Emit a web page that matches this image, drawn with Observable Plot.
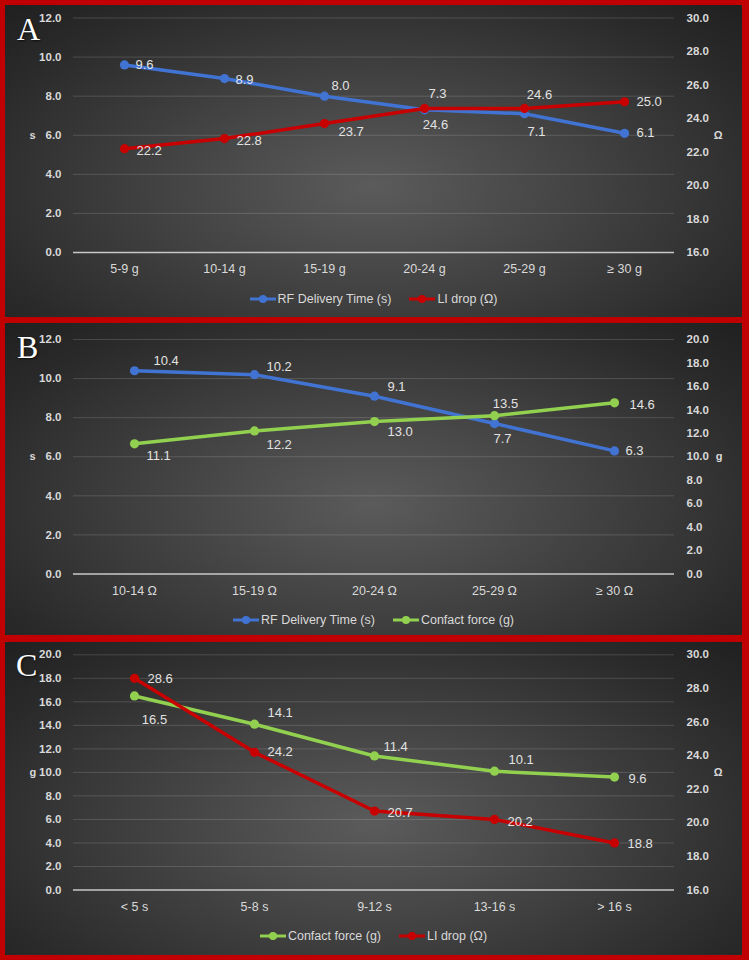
<!DOCTYPE html>
<html><head><meta charset="utf-8">
<script src="https://cdn.jsdelivr.net/npm/d3@7"></script>
<script src="https://cdn.jsdelivr.net/npm/@observablehq/plot@0.6"></script>
<style>
html,body{margin:0;padding:0}
body{background:#c00000;width:749px;height:960px;position:relative;overflow:hidden;font-family:"Liberation Sans",Arial,sans-serif;}
.panel{position:absolute;left:5px;width:737px;overflow:hidden;
  background:radial-gradient(ellipse farthest-corner at 50% 58%, #5b5b5b 0%, #434343 40%, #2a2a2a 80%, #202020 100%);}
.panel svg{position:absolute;left:0;top:0}
.letter{position:absolute;font-family:"Liberation Serif","DejaVu Serif",serif;font-size:32px;color:#fff;line-height:1;text-shadow:1px 1px 2px rgba(0,0,0,.7)}
.legend{position:absolute;left:68px;width:601px;display:flex;justify-content:center;gap:18px;font-size:12.5px;color:#d9d9d9;transform:translateY(-50%)}
.item{display:flex;align-items:center;gap:2px;white-space:nowrap}
</style></head><body>
<script>
// ---- data ----
const catsA = ["5-9 g", "10-14 g", "15-19 g", "20-24 g", "25-29 g", "≥ 30 g"];
const rfTimeA = [9.6, 8.9, 8.0, 7.3, 7.1, 6.1];
const liDropA = [22.2, 22.8, 23.7, 24.6, 24.6, 25.0];

const catsB = ["10-14 Ω", "15-19 Ω", "20-24 Ω", "25-29 Ω", "≥ 30 Ω"];
const rfTimeB = [10.4, 10.2, 9.1, 7.7, 6.3];
const forceB = [11.1, 12.2, 13.0, 13.5, 14.6];

const catsC = ["< 5 s", "5-8 s", "9-12 s", "13-16 s", "> 16 s"];
const forceC = [16.5, 14.1, 11.4, 10.1, 9.6];
const liDropC = [28.6, 24.2, 20.7, 20.2, 18.8];

const ticks0to12 = [0, 2, 4, 6, 8, 10, 12];
const ticks0to20 = [0, 2, 4, 6, 8, 10, 12, 14, 16, 18, 20];
const ticks16to30 = [16, 18, 20, 22, 24, 26, 28, 30];

const seriesNames = {rf: "RF Delivery Time (s)", li: "LI drop (Ω)", cf: "Confact force (g)"};

// ---- styling / layout ----
const COLORS = {rf: "#4173d3", li: "#c80000", cf: "#92d050"};
const FONT = '"Liberation Sans", Arial, sans-serif';

const panels = [
  {letter: "A", top: 5, height: 312, mt: 12.5, mb: 33, legendY: 294, letterTop: 8, letterLeft: 12,
   cats: catsA, leftTicks: ticks0to12, rightTicks: ticks16to30, leftLabel: "s", rightLabel: "Ω",
   left: {key: "rf", values: rfTimeA, labels: [["start",11,0],["start",11,1],["start",7,-10],["start",4,-16],["middle",12,18],["start",12,0]]},
   right: {key: "li", values: liDropA, labels: [["start",12,2],["start",12,2],["start",14,8],["middle",11,16],["middle",15,-14],["start",12,0]]}},
  {letter: "B", top: 323, height: 312, mt: 16, mb: 29.5, legendY: 297, letterTop: 8, letterLeft: 12,
   cats: catsB, leftTicks: ticks0to12, rightTicks: ticks0to20, leftLabel: "s", rightLabel: "g",
   left: {key: "rf", values: rfTimeB, labels: [["start",19,-10],["start",12,-8],["start",13,-9],["middle",8,15],["start",11,0]]},
   right: {key: "cf", values: forceB, labels: [["start",12,12],["start",12,14],["start",13,10],["middle",11,-12],["start",15,2]]}},
  {letter: "C", top: 642, height: 313, mt: 12.3, mb: 32.5, legendY: 294, letterTop: 7, letterLeft: 11,
   cats: catsC, leftTicks: ticks0to20, rightTicks: ticks16to30, leftLabel: "g", rightLabel: "Ω",
   left: {key: "cf", values: forceC, labels: [["middle",20,24],["start",13,-11],["start",9,-9],["start",14,-11],["start",14,2]]},
   right: {key: "li", values: liDropC, labels: [["start",13,1],["start",13,0],["start",13,2],["start",13,2],["start",13,1]]}}
];

const W = 737, H = 280, ML = 68, MR = 68;

function seriesMarks(cats, s) {
  const data = cats.map((c, i) => ({cat: c, v: s.values[i]}));
  const color = COLORS[s.key];
  const marks = [
    Plot.line(data, {x: "cat", y: "v", stroke: color, strokeWidth: 3.5}),
    Plot.dot(data, {x: "cat", y: "v", r: 4.6, fill: color})
  ];
  data.forEach((d, i) => {
    const [anchor, dx, dy] = s.labels[i];
    marks.push(Plot.text([d], {x: "cat", y: "v", text: e => e.v.toFixed(1), textAnchor: anchor, dx, dy,
      fill: "#e2e2e2", fontSize: 13}));
  });
  return marks;
}

const fmt = d => d.toFixed(1);

panels.forEach(p => {
  const div = document.createElement("div");
  div.className = "panel";
  div.style.top = p.top + "px";
  div.style.height = p.height + "px";
  document.body.appendChild(div);

  const common = {
    width: W, height: H, marginLeft: ML, marginRight: MR, marginTop: p.mt, marginBottom: p.mb,
    style: {background: "transparent", color: "#d9d9d9", fontFamily: FONT, fontSize: "11.5px", overflow: "visible"},
  };
  const ld = [p.leftTicks[0], p.leftTicks[p.leftTicks.length - 1]];
  const rd = [p.rightTicks[0], p.rightTicks[p.rightTicks.length - 1]];

  const base = Plot.plot({
    ...common,
    x: {type: "point", domain: p.cats, padding: 0.5},
    y: {domain: ld},
    marks: [
      Plot.gridY(p.leftTicks.slice(1), {stroke: "#ffffff", strokeOpacity: 0.15, strokeWidth: 1}),
      Plot.ruleY([ld[0]], {stroke: "#c8c8c8", strokeWidth: 1.5}),
      Plot.axisY(p.leftTicks, {tickSize: 0, tickPadding: 12, tickFormat: fmt, fontWeight: "bold", label: null}),
      Plot.axisX({tickSize: 0, tickPadding: 12, label: null, fontSize: 12.5}),
      Plot.text([p.leftLabel], {frameAnchor: "left", text: d => d, dx: -44, fontWeight: "bold", fontSize: 11}),
      ...seriesMarks(p.cats, p.left)
    ]
  });
  div.appendChild(base);

  const over = Plot.plot({
    ...common,
    x: {type: "point", domain: p.cats, padding: 0.5, axis: null},
    y: {domain: rd},
    marks: [
      Plot.axisY(p.rightTicks, {anchor: "right", tickSize: 0, tickPadding: 12, tickFormat: fmt, fontWeight: "bold", label: null}),
      Plot.text([p.rightLabel], {frameAnchor: "right", text: d => d, dx: 48, fontWeight: "bold", fontSize: 11}),
      ...seriesMarks(p.cats, p.right)
    ]
  });
  div.appendChild(over);

  const letter = document.createElement("div");
  letter.className = "letter";
  letter.textContent = p.letter;
  letter.style.top = p.letterTop + "px";
  letter.style.left = p.letterLeft + "px";
  div.appendChild(letter);

  const leg = document.createElement("div");
  leg.className = "legend";
  leg.style.top = p.legendY + "px";
  [p.left.key, p.right.key].forEach(k => {
    const it = document.createElement("div");
    it.className = "item";
    const c = COLORS[k];
    it.innerHTML = `<svg width="26" height="10" style="position:static"><line x1="0" x2="26" y1="5" y2="5" stroke="${c}" stroke-width="3"/><circle cx="13" cy="5" r="4" fill="${c}"/></svg><span>${seriesNames[k]}</span>`;
    leg.appendChild(it);
  });
  div.appendChild(leg);
});
</script>
</body></html>
